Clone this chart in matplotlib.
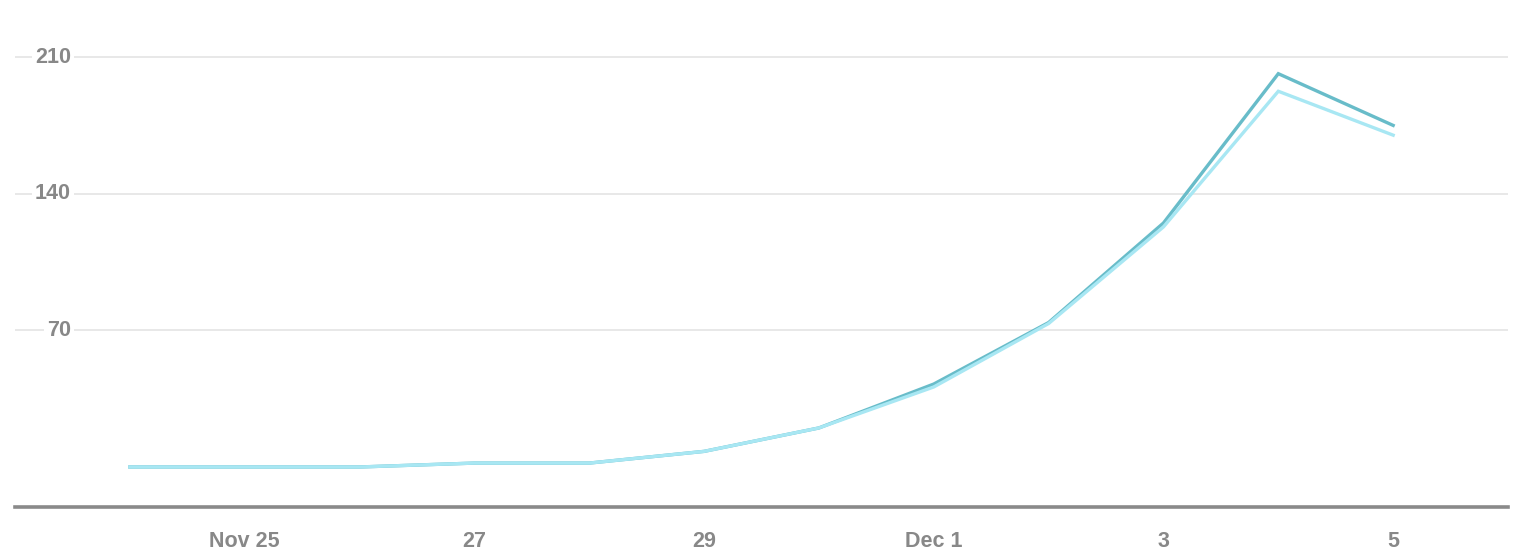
import numpy as np
import matplotlib
matplotlib.use("Agg")
import matplotlib.pyplot as plt

# data
days = ['2023-11-24', '2023-11-25', '2023-11-26', '2023-11-27', '2023-11-28', '2023-11-29',
        '2023-11-30', '2023-12-01', '2023-12-02', '2023-12-03', '2023-12-04', '2023-12-05']
series_dark = [0, 0, 0, 2, 2, 8, 20, 42.5, 74, 125, 201.5, 175]
series_light = [0, 0, 0, 2, 2, 8, 20, 41, 73.5, 123, 192.5, 170]

tick_days = ['2023-11-25', '2023-11-27', '2023-11-29', '2023-12-01', '2023-12-03', '2023-12-05']
tick_labels = ['Nov 25', '27', '29', 'Dec 1', '3', '5']
y_ticks = [70, 140, 210]

x = np.array(days, dtype='datetime64[D]')
xt = np.array(tick_days, dtype='datetime64[D]')

plt.rcParams['font.family'] = ['Liberation Sans', 'DejaVu Sans']

fig = plt.figure(figsize=(15.29, 5.57), dpi=100)
ax = fig.add_axes([15 / 1529, 1 - 507 / 557, 1493 / 1529, 487 / 557])

ax.plot(x, series_dark, color='#68bcc9', lw=2.4, solid_joinstyle='miter', zorder=3)
ax.plot(x, series_light, color='#a8e7f3', lw=2.4, solid_joinstyle='miter', zorder=4)

ax.set_xlim(np.datetime64('2023-11-23'), np.datetime64('2023-12-06'))
ax.set_ylim(-20.5, 229)

for s in ['top', 'right', 'left']:
    ax.spines[s].set_visible(False)
ax.spines['bottom'].set_color('#8a8a8a')
ax.spines['bottom'].set_linewidth(2.6)

ax.set_yticks(y_ticks)
ax.set_yticklabels([])
ax.tick_params(axis='y', length=0)
ax.grid(axis='y', color='#e6e6e6', lw=1.3)
ax.set_axisbelow(True)

# y labels sit on the gridlines with a white box
for v in y_ticks:
    ax.annotate(str(v), xy=(0, v), xycoords=('axes fraction', 'data'),
                xytext=(56, 0), textcoords='offset pixels', ha='right', va='center',
                fontsize=15.5, fontweight='bold', color='#888888',
                bbox=dict(boxstyle='square,pad=0.12', fc='white', ec='none'))

ax.set_xticks(xt)
ax.set_xticklabels(tick_labels, fontsize=15.5, fontweight='bold', color='#888888')
ax.tick_params(axis='x', length=0, pad=17)

fig.savefig('out.png', dpi=100, facecolor='white')
